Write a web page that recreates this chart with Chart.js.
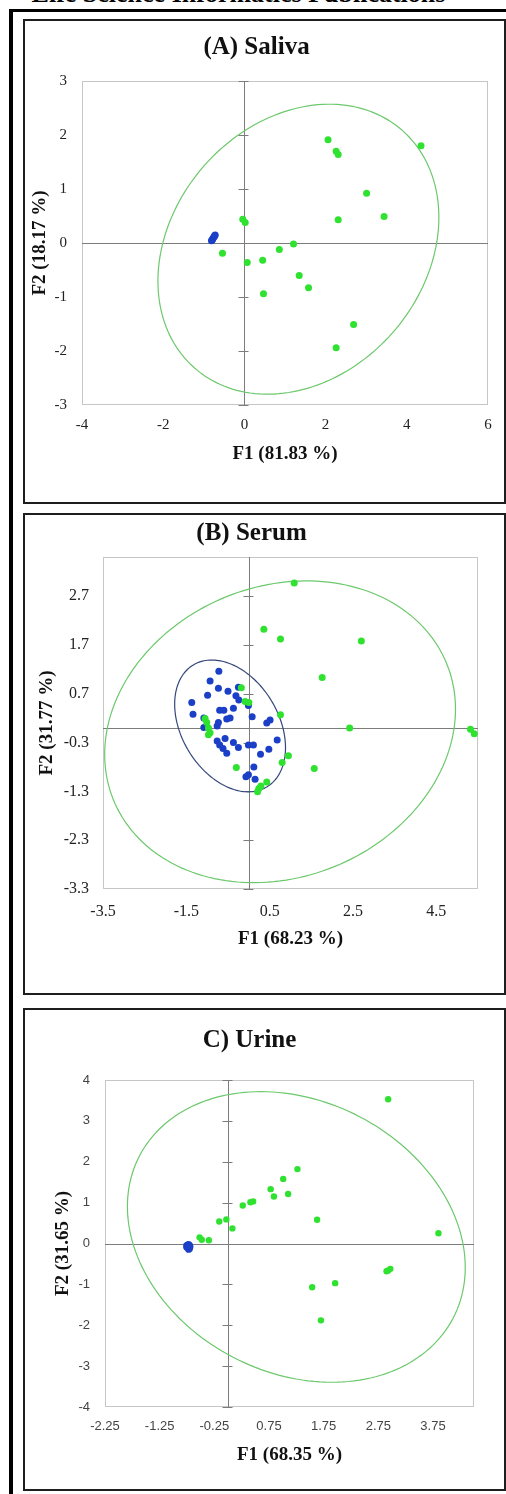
<!DOCTYPE html>
<html>
<head>
<meta charset="utf-8">
<script src="https://cdn.jsdelivr.net/npm/chart.js@4.4.1/dist/chart.umd.min.js"></script>
<style>
  html, body { margin: 0; padding: 0; background: #fff; }
  body { width: 506px; height: 1494px; position: relative; overflow: hidden; }
  #banner { position: absolute; left: 10px; width: 457px; top: -19.5px; font: bold 26px/26px 'Liberation Serif', 'Times New Roman', serif; text-align: center; white-space: nowrap; color: #000; }
  #outer { position: absolute; left: 9px; top: 9px; width: 520px; height: 1500px; border-top: 3px solid #000; border-left: 4px solid #000; }
  .panel { position: absolute; left: 23px; width: 483px; box-sizing: border-box; border: 2px solid #1e1e1e; background: #fff; }
  .panel canvas { position: absolute; left: 0; top: 0; }
</style>
</head>
<body>
<div id="banner">Life Science Informatics Publications</div>
<div id="outer"></div>
<div class="panel" style="top:19px;height:485px"><canvas id="saliva" width="479" height="481"></canvas></div>
<div class="panel" style="top:513px;height:482px"><canvas id="serum" width="479" height="478"></canvas></div>
<div class="panel" style="top:1008px;height:483px"><canvas id="urine" width="479" height="479"></canvas></div>
<script>
// (A) Saliva - PCA scores, [F1, F2]
const salivaGreen = [[2.06, 1.91], [2.26, 1.70], [2.31, 1.64], [4.35, 1.80], [3.01, 0.92], [3.44, 0.49],
    [2.31, 0.43], [-0.04, 0.44], [0.02, 0.38], [-0.54, -0.19], [0.07, -0.36], [0.45, -0.32],
    [0.86, -0.12], [1.21, -0.02], [1.35, -0.60], [1.58, -0.83], [0.47, -0.94], [2.69, -1.51], [2.26, -1.94]];
const salivaBlue = [[-0.81, 0.04], [-0.80, 0.05], [-0.79, 0.06], [-0.78, 0.08], [-0.76, 0.10],
    [-0.74, 0.12], [-0.73, 0.14], [-0.72, 0.15]];
const salivaXTicks = [-4, -2, 0, 2, 4, 6];
const salivaYTicks = [-3, -2, -1, 0, 1, 2, 3];
// confidence ellipse: [centre F1, centre F2, half width, half height, tilt]
const salivaEllipse = [1.33, -0.115, 3.46, 2.685, 0.22];

// (B) Serum
const serumGreen = [[1.09, 2.97], [0.36, 2.02], [0.76, 1.82], [2.70, 1.78], [1.76, 1.03], [-0.18, 0.82],
    [-0.09, 0.54], [0.00, 0.52], [0.76, 0.27], [2.42, 0.00], [5.32, -0.03], [5.41, -0.12],
    [-1.05, 0.19], [-1.01, 0.11], [-0.97, 0.00], [-0.93, -0.10], [-0.97, -0.14], [0.95, -0.57],
    [0.80, -0.71], [1.57, -0.83], [-0.30, -0.81], [0.43, -1.11], [0.29, -1.19], [0.24, -1.24], [0.21, -1.31]];
const serumBlue = [[-0.72, 1.16], [-0.93, 0.96], [-0.73, 0.81], [-0.99, 0.67], [-0.50, 0.75], [-1.37, 0.52],
    [-1.34, 0.28], [-0.70, 0.36], [-0.60, 0.36], [-0.37, 0.40], [-0.25, 0.83], [-0.31, 0.66],
    [-0.24, 0.57], [-0.01, 0.46], [0.08, 0.23], [-0.53, 0.18], [-0.45, 0.20], [-1.08, 0.01],
    [-0.76, 0.04], [-0.73, 0.11], [0.43, 0.10], [0.51, 0.16], [-0.76, -0.27], [-0.70, -0.35],
    [-0.62, -0.42], [-0.53, -0.52], [-0.57, -0.22], [-0.37, -0.30], [-0.25, -0.40], [-0.01, -0.35],
    [0.11, -0.35], [0.28, -0.54], [0.48, -0.44], [0.68, -0.25], [0.12, -0.80], [-0.01, -0.96],
    [-0.07, -1.00], [0.15, -1.05], [-1.08, 0.20]];
const serumXTicks = [-3.5, -1.5, 0.5, 2.5, 4.5];
const serumYTicks = [-3.3, -2.3, -1.3, -0.3, 0.7, 1.7, 2.7];
const serumEllipseGreen = [0.75, -0.08, 4.21, 3.09, 0.15];
const serumEllipseBlue = [-0.45, 0.04, 1.33, 1.35, -0.33];

// C) Urine
const urineGreen = [[2.93, 3.53], [1.27, 1.82], [1.01, 1.58], [0.78, 1.33], [0.84, 1.15], [1.10, 1.21],
    [0.46, 1.03], [0.41, 1.01], [0.27, 0.93], [-0.16, 0.54], [-0.03, 0.59], [0.08, 0.37],
    [1.63, 0.58], [3.85, 0.25], [-0.52, 0.15], [-0.48, 0.09], [-0.35, 0.08], [2.90, -0.68],
    [2.97, -0.62], [2.93, -0.66], [1.54, -1.07], [1.96, -0.97], [1.70, -1.88]];
const urineBlue = [[-0.76, -0.05], [-0.74, -0.03], [-0.72, -0.02], [-0.70, -0.04], [-0.69, -0.08],
    [-0.70, -0.13], [-0.72, -0.15], [-0.74, -0.11], [-0.76, -0.09], [-0.72, -0.08]];
const urineXTicks = [-2.25, -1.25, -0.25, 0.75, 1.75, 2.75, 3.75];
const urineYTicks = [-4, -3, -2, -1, 0, 1, 2, 3, 4];
const urineEllipse = [1.25, 0.16, 3.09, 3.555, -0.21];

const GREEN = '#2fe22f';
const BLUE = '#1b3fc6';
const SERIF = "'Liberation Serif', 'Times New Roman', serif";
const SANS = "'Liberation Sans', Arial, sans-serif";

function toPoints(list) {
    return list.map(p => ({ x: p[0], y: p[1] }));
}

function drawEllipse(ctx, xs, ys, e, color) {
    const [cx, cy, a, b, s] = e;
    const phi = Math.asin(s);
    ctx.beginPath();
    for (let i = 0; i <= 180; i++) {
        const t = i / 180 * 2 * Math.PI;
        const px = xs.getPixelForValue(cx + a * Math.cos(t));
        const py = ys.getPixelForValue(cy + b * Math.sin(t + phi));
        if (i === 0) ctx.moveTo(px, py); else ctx.lineTo(px, py);
    }
    ctx.closePath();
    ctx.strokeStyle = color;
    ctx.lineWidth = 1.2;
    ctx.stroke();
}

// plot frame, axes through the origin and the ellipses, drawn under the points
function framePlugin(ellipses) {
    return {
        id: 'frame',
        beforeDatasetsDraw(chart) {
            const { ctx, chartArea: a, scales: { x, y } } = chart;
            ctx.save();
            ctx.lineWidth = 1;
            ctx.strokeStyle = '#c6c6c6';
            ctx.strokeRect(a.left + 0.5, a.top + 0.5, a.width - 1, a.height - 1);

            const x0 = Math.round(x.getPixelForValue(0)) + 0.5;
            const y0 = Math.round(y.getPixelForValue(0)) + 0.5;
            ctx.strokeStyle = '#7c7c7c';
            ctx.beginPath();
            ctx.moveTo(a.left, y0);
            ctx.lineTo(a.right, y0);
            ctx.moveTo(x0, a.top);
            ctx.lineTo(x0, a.bottom);
            y.ticks.forEach(t => {
                const py = Math.round(y.getPixelForValue(t.value)) + 0.5;
                ctx.moveTo(x0 - 6, py);
                ctx.lineTo(x0 + 4, py);
            });
            ctx.stroke();

            ctx.beginPath();
            ctx.rect(a.left, a.top, a.width, a.height);
            ctx.clip();
            ellipses.forEach(el => drawEllipse(ctx, x, y, el.params, el.color));
            ctx.restore();
        }
    };
}

function makeChart(id, p) {
    new Chart(document.getElementById(id), {
        type: 'scatter',
        data: {
            datasets: [
                { data: toPoints(p.green), backgroundColor: GREEN, borderWidth: 0, pointRadius: p.radius },
                { data: toPoints(p.blue), backgroundColor: BLUE, borderWidth: 0, pointRadius: p.radius }
            ]
        },
        options: {
            responsive: false,
            animation: false,
            events: [],
            layout: { padding: { left: 0, right: p.padRight, top: 0, bottom: p.padBottom } },
            plugins: {
                legend: { display: false },
                tooltip: { enabled: false },
                title: {
                    display: true,
                    text: p.title,
                    color: '#111',
                    font: { family: SERIF, size: 25, weight: 'bold', lineHeight: 1.2 },
                    padding: { top: p.titleTop, bottom: p.titleBottom }
                }
            },
            scales: {
                x: {
                    type: 'linear',
                    min: p.xMin,
                    max: p.xMax,
                    afterBuildTicks: s => { s.ticks = p.xTicks.map(v => ({ value: v })); },
                    afterFit: s => { s.height = p.xAxisH; },
                    grid: { display: false, drawTicks: false },
                    border: { display: false },
                    ticks: {
                        autoSkip: false,
                        maxRotation: 0,
                        padding: p.xTickPad,
                        color: p.tickColor,
                        font: { family: p.tickFont, size: p.tickSize },
                        callback: v => String(v)
                    },
                    title: {
                        display: true,
                        text: p.xTitle,
                        color: '#111',
                        font: { family: SERIF, size: 19, weight: 'bold' },
                        padding: { top: 0, bottom: p.xTitlePad }
                    }
                },
                y: {
                    type: 'linear',
                    min: p.yMin,
                    max: p.yMax,
                    afterBuildTicks: s => { s.ticks = p.yTicks.map(v => ({ value: v })); },
                    afterFit: s => { s.width = p.yAxisW; },
                    grid: { display: false, drawTicks: false },
                    border: { display: false },
                    ticks: {
                        autoSkip: false,
                        padding: p.yTickPad,
                        color: p.tickColor,
                        font: { family: p.tickFont, size: p.tickSize },
                        callback: v => String(v)
                    },
                    title: {
                        display: true,
                        text: p.yTitle,
                        color: '#111',
                        font: { family: SERIF, size: 19, weight: 'bold' },
                        padding: { top: p.yTitlePad, bottom: 0 }
                    }
                }
            }
        },
        plugins: [framePlugin(p.ellipses)]
    });
}

makeChart('saliva', {
    title: '(A) Saliva', xTitle: 'F1 (81.83 %)', yTitle: 'F2 (18.17 %)',
    green: salivaGreen, blue: salivaBlue, xTicks: salivaXTicks, yTicks: salivaYTicks,
    xMin: -4, xMax: 6, yMin: -3, yMax: 3, radius: 3.5,
    ellipses: [{ params: salivaEllipse, color: '#6cc86c' }],
    padRight: 16, padBottom: 35, titleTop: 12, titleBottom: 18,
    xAxisH: 62, yAxisW: 57, xTickPad: 11.5, yTickPad: 15, xTitlePad: 1.6, yTitlePad: 3.6,
    tickFont: SERIF, tickSize: 15, tickColor: '#222'
});

makeChart('serum', {
    title: '(B) Serum', xTitle: 'F1 (68.23 %)', yTitle: 'F2 (31.77 %)',
    green: serumGreen, blue: serumBlue, xTicks: serumXTicks, yTicks: serumYTicks,
    xMin: -3.5, xMax: 5.5, yMin: -3.3, yMax: 3.5, radius: 3.5,
    ellipses: [{ params: serumEllipseGreen, color: '#6cc86c' }, { params: serumEllipseBlue, color: '#34467a' }],
    padRight: 26, padBottom: 40, titleTop: 4, titleBottom: 8,
    xAxisH: 64, yAxisW: 78, xTickPad: 13, yTickPad: 14, xTitlePad: 2.3, yTitlePad: 10.3,
    tickFont: SERIF, tickSize: 16, tickColor: '#222'
});

makeChart('urine', {
    title: 'C) Urine', xTitle: 'F1 (68.35 %)', yTitle: 'F2 (31.65 %)',
    green: urineGreen, blue: urineBlue, xTicks: urineXTicks, yTicks: urineYTicks,
    xMin: -2.25, xMax: 4.5, yMin: -4, yMax: 4, radius: 3.2,
    ellipses: [{ params: urineEllipse, color: '#6cc86c' }],
    padRight: 30, padBottom: 21, titleTop: 16, titleBottom: 24,
    xAxisH: 61, yAxisW: 80, xTickPad: 12, yTickPad: 15, xTitlePad: 1.6, yTitlePad: 26.6,
    tickFont: SANS, tickSize: 13, tickColor: '#444'
});
</script>
</body>
</html>
